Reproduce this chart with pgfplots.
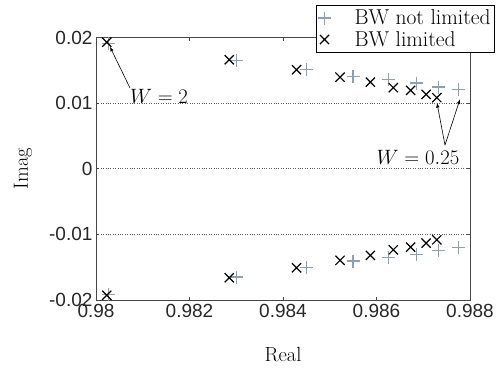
\documentclass[border=0pt]{standalone}
\usepackage{fontspec}
\usepackage{pgfplots}
\pgfplotsset{compat=1.18}
\newfontfamily\helv{Liberation Sans}
\definecolor{plusc}{RGB}{140,160,176}
\definecolor{axc}{RGB}{70,70,70}
\begin{document}
\begin{tikzpicture}
\begin{axis}[
  at={(0,0)}, anchor=south west,
  scale only axis, width=374pt, height=262.5pt,
  xmin=0.98, xmax=0.988, ymin=-0.02, ymax=0.02,
  xtick={0.98,0.982,0.984,0.986,0.988},
  xticklabels={0.98,0.982,0.984,0.986,0.988},
  ytick={-0.02,-0.01,0,0.01,0.02},
  yticklabels={-0.02,-0.01,0,0.01,0.02},
  scaled ticks=false,
  tick align=inside, major tick length=3pt,
  tick style={axc, line width=0.6pt},
  axis line style={axc, line width=0.9pt},
  ticklabel style={font=\helv\fontsize{19}{22}\selectfont, text=black!85},
  xticklabel style={yshift=-1pt},
  ymajorgrids, grid style={dotted, black!65, line width=0.7pt},
  label style={font=\fontsize{20.5}{24}\selectfont},
  xlabel={Real}, ylabel={Imag},
  xlabel style={at={(axis description cs:0.5,-0.2095)}, anchor=center},
  ylabel style={at={(axis description cs:-0.195,0.5)}, anchor=center},
  legend style={at={(rel axis cs:1.067,1.124)}, anchor=north east,
    draw=black, line width=0.8pt, fill=white,
    font=\fontsize{21.5}{25}\selectfont, inner xsep=2pt, inner ysep=2.5pt,
    row sep=1pt},
  legend image code/.code={\draw[#1] plot coordinates {(0pt,0pt)}; \draw[draw=none] (-4pt,0pt) -- (20pt,0pt);},
  legend cell align=left,
  clip=false,
]
\addplot[only marks, mark=+, mark size=6.5pt, plusc, line width=1.3pt] coordinates {
(0.98026,0.01913) (0.98301,0.01650) (0.98450,0.01509) (0.98550,0.01407)
(0.98625,0.01357) (0.98686,0.01305) (0.98732,0.01244) (0.98775,0.01205)
(0.98026,-0.01913) (0.98301,-0.01650) (0.98450,-0.01509) (0.98550,-0.01407)
(0.98625,-0.01357) (0.98686,-0.01305) (0.98732,-0.01244) (0.98775,-0.01205)
};
\addlegendentry{\hspace{8pt}BW not limited}
\addplot[only marks, mark=x, mark size=6.5pt, black, line width=1.2pt] coordinates {
(0.98023,0.01929) (0.98285,0.01661) (0.98429,0.01509) (0.98522,0.01396)
(0.98587,0.01320) (0.98636,0.01235) (0.98673,0.01194) (0.98706,0.01133)
(0.98729,0.01083)
(0.98023,-0.01929) (0.98285,-0.01661) (0.98429,-0.01509) (0.98522,-0.01396)
(0.98587,-0.01320) (0.98636,-0.01235) (0.98673,-0.01194) (0.98706,-0.01133)
(0.98729,-0.01083)
};
\addlegendentry{\hspace{8pt}BW limited}
\draw[-latex, line width=0.6pt] (axis cs:0.980727,0.01230) -- (axis cs:0.980299,0.01859);
\node[font=\fontsize{20.5}{24}\selectfont] at (axis cs:0.981348,0.01109) {$W=2$};
\draw[-latex, line width=0.6pt] (axis cs:0.987465,0.00362) -- (axis cs:0.987294,0.01002);
\draw[-latex, line width=0.6pt] (axis cs:0.987465,0.00362) -- (axis cs:0.987786,0.01059);
\node[font=\fontsize{20.5}{24}\selectfont] at (axis cs:0.986888,0.00179) {$W=0.25$};
\end{axis}
\pgfresetboundingbox
\path[use as bounding box] (-96pt,-73pt) rectangle (403pt,300pt);
\end{tikzpicture}
\end{document}
